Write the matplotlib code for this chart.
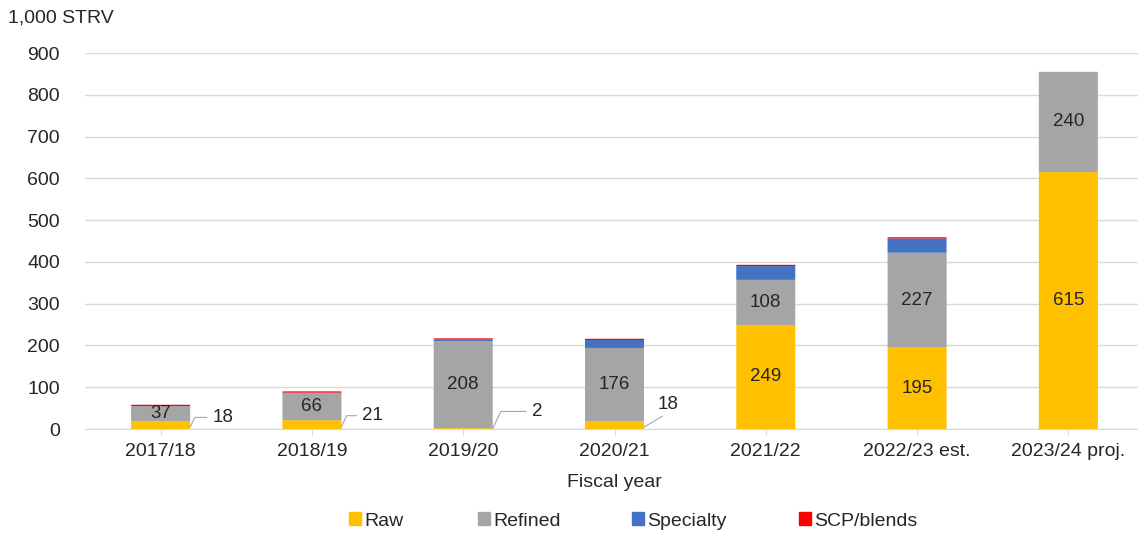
import numpy as np
import matplotlib.pyplot as plt
from matplotlib.patches import Patch

plt.rcParams["font.family"] = ["Liberation Sans", "DejaVu Sans"]

years = ["2017/18", "2018/19", "2019/20", "2020/21", "2021/22", "2022/23 est.", "2023/24 proj."]
raw = [18, 21, 2, 18, 249, 195, 615]
refined = [37, 66, 208, 176, 108, 227, 240]
specialty = [0, 0, 4, 19, 33, 34, 0]
scp = [3, 3, 3, 3, 3, 3, 0]

colors = {"Raw": "#FFC000", "Refined": "#A5A5A5", "Specialty": "#4472C4", "SCP/blends": "#FF0000"}
txt = "#262626"
fs = 14

fig = plt.figure(figsize=(11.38, 5.35), dpi=100)
ax = fig.add_axes([85 / 1138, 1 - 429 / 535, 1059 / 1138, 376 / 535])

x = np.arange(len(years))
w = 0.39
bottom = np.zeros(len(years))
for name, vals in [("Raw", raw), ("Refined", refined), ("Specialty", specialty), ("SCP/blends", scp)]:
    ax.bar(x, vals, w, bottom=bottom, color=colors[name], label=name, zorder=3, snap=False)
    bottom += np.array(vals)

# values written inside the bars
for i in range(len(years)):
    ax.text(x[i], raw[i] + refined[i] / 2, str(refined[i]), ha="center", va="center",
            fontsize=13.5, color=txt, zorder=4)
    if raw[i] > 50:
        ax.text(x[i], raw[i] / 2, str(raw[i]), ha="center", va="center",
                fontsize=13.5, color=txt, zorder=4)

# small raw segments labelled outside with leader lines
offsets = [(16, 7), (15, 8), (28, 12.5), (10, 16.5)]
for i, (dx, dy) in enumerate(offsets):
    if i < 3:
        arrow = dict(connectionstyle="angle,angleA=0,angleB=65,rad=0", shrinkA=2)
    else:
        arrow = dict(connectionstyle="arc3", shrinkA=1, relpos=(0.5, 0))
    ax.annotate(str(raw[i]), xy=(x[i] + w / 2, raw[i] / 4), xytext=(dx, dy),
                textcoords="offset points", ha="left", va="center", fontsize=13.5, color=txt,
                arrowprops=dict(arrowstyle="-", color="#A6A6A6", lw=0.8, shrinkB=0, **arrow))

ax.set_xlim(-0.5, 6.5)
ax.set_ylim(0, 900)
ax.set_yticks(range(0, 1000, 100))
ax.set_xticks(x)
ax.set_xticklabels(years)
ax.tick_params(axis="y", length=0, labelsize=fs, labelcolor=txt, pad=18)
ax.tick_params(axis="x", length=4, color="#D9D9D9", labelsize=fs, labelcolor=txt, pad=6)
ax.grid(axis="y", color="#D9D9D9", lw=1, zorder=0)
for s in ["top", "right", "left"]:
    ax.spines[s].set_visible(False)
ax.spines["bottom"].set_color("#D9D9D9")

ax.set_xlabel("Fiscal year", fontsize=fs, color=txt, labelpad=10)
fig.text(8 / 1138, 1 - 18 / 535, "1,000 STRV", fontsize=fs, color=txt, va="center", ha="left")

# legend entries placed along the bottom
legend_x = [349, 478, 632, 799]
for lx, name in zip(legend_x, colors):
    fig.legend(handles=[Patch(color=colors[name])], labels=[name], loc="center left",
               bbox_to_anchor=(lx / 1138, 1 - 521 / 535), frameon=False, fontsize=fs,
               handlelength=0.6, handleheight=0.6, handletextpad=0.2, borderpad=0,
               borderaxespad=0, labelcolor=txt)

fig.savefig("out.png", dpi=100)
